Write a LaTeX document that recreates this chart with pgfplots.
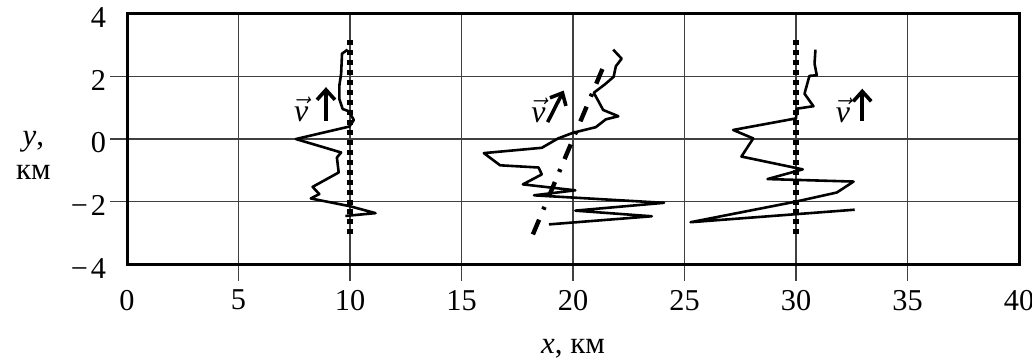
\documentclass[border=0pt]{standalone}
\usepackage{fontspec}
\setmainfont{Liberation Serif}
\usepackage{pgfplots}
\pgfplotsset{compat=1.18}
\usetikzlibrary{arrows.meta}
\begin{document}
\begin{tikzpicture}
\path[use as bounding box] (-63.75pt,-50pt) rectangle (454pt,132.5pt);
\begin{axis}[
 scale only axis, width=447.5pt, height=125.5pt,
 xmin=0, xmax=40, ymin=-4, ymax=4,
 axis lines*=left,
 axis line style={line width=1.5pt},
 xtick={5,10,...,35}, ytick={-2,0,2},
 xticklabels={}, yticklabels={},
 tick align=outside, major tick length=8.5pt,
 tick style={black!75, line width=0.7pt},
]
\end{axis}
\begin{axis}[
 scale only axis, width=447.5pt, height=125.5pt,
 xmin=0, xmax=40, ymin=-4, ymax=4,
 axis line style={line width=1.5pt},
 xtick={0,5,...,40}, ytick={-4,-2,...,4},
 xticklabels={0,5,10,15,20,25,30,35,40},
 yticklabels={−\kern1.5pt4,−\kern1.5pt2,0,2,4},
 major tick length=0pt,
 tick style={black!75, line width=0.7pt},
 grid=major, major grid style={black!75, line width=0.7pt},
 tick label style={font=\fontsize{15.2}{19}\selectfont},
 xticklabel style={yshift=-9.5pt},
 yticklabel style={xshift=-7pt, yshift=-2pt},
 every axis x label/.style={at={(axis description cs:0.5,0)}, anchor=base, yshift=-45pt, font=\fontsize{15.5}{19}\selectfont},
 xlabel={\textit{x}, км},
 every axis y label/.style={at={(axis description cs:0,0.5)}, anchor=center, xshift=-47pt, yshift=-8pt, align=center, font=\fontsize{15.5}{17}\selectfont},
 ylabel={\textit{y},\\км},
 clip=false,
]
% trace 1
\addplot[line width=1.3pt, line join=round] coordinates {
(9.89,2.86) (9.64,2.73) (9.6,2.09) (9.52,1.71) (9.52,1.28) (9.67,0.96) (9.94,0.89) (10.17,0.61) (9.97,0.40)
(7.57,0.0) (9.6,-0.43) (9.41,-0.59) (9.49,-1.07) (8.32,-1.53) (8.62,-1.76) (8.24,-1.90) (10.0,-2.15) (11.14,-2.37) (9.79,-2.46)};
% trace 2
\addplot[line width=1.3pt, line join=round] coordinates {
(21.8,2.86) (22.18,2.57) (21.92,2.33) (21.82,1.99) (21.43,1.75) (20.93,1.48) (21.13,1.22) (21.35,0.93) (22.03,0.73)
(21.47,0.63) (21.02,0.38) (20.0,0.2) (19.33,0.02) (18.6,-0.28) (16.0,-0.45) (16.73,-0.84) (18.45,-0.91) (18.6,-1.13)
(17.75,-1.45) (20.1,-1.64) (18.25,-1.8) (24.08,-2.04) (20.1,-2.29) (23.53,-2.47) (18.92,-2.73)};
% trace 3
\addplot[line width=1.3pt, line join=round] coordinates {
(30.87,2.86) (30.83,2.41) (30.93,2.04) (30.6,2.02) (30.38,1.45) (30.78,1.05) (30.03,0.97) (30.0,0.66)
(27.18,0.29) (28.08,0.02) (27.55,-0.56) (30.3,-0.97) (28.72,-1.28) (32.58,-1.36) (31.83,-1.71) (30.0,-2.0)
(25.27,-2.66) (32.63,-2.26)};
% dotted verticals
\addplot[line width=2.8pt, dash pattern=on 2.5pt off 2.5pt] coordinates {(10,-3.05) (10,3.2)};
\addplot[line width=2.8pt, dash pattern=on 2.5pt off 2.5pt] coordinates {(30,-3.05) (30,3.2)};
% dash-dot
\addplot[line width=2.2pt, dash pattern=on 8pt off 5.5pt on 1.5pt off 5.5pt] coordinates {(18.2,-3.05) (21.5,2.55)};
% arrows
\addplot[line width=1.8pt, -{Straight Barb[length=5pt,width=9pt]}] coordinates {(8.92,0.59) (8.92,1.66)};
\addplot[line width=1.8pt, -{Straight Barb[length=5pt,width=9pt]}] coordinates {(18.86,0.54) (19.58,1.55)};
\addplot[line width=1.8pt, -{Straight Barb[length=5pt,width=9pt]}] coordinates {(32.97,0.58) (32.97,1.61)};
\node[font=\fontsize{16}{19}\selectfont] at (axis cs:7.81,0.96) {$\vec{\mbox{\itshape v}}$};
\node[font=\fontsize{16}{19}\selectfont] at (axis cs:18.45,0.91) {$\vec{\mbox{\itshape v}}$};
\node[font=\fontsize{16}{19}\selectfont] at (axis cs:32.1,0.92) {$\vec{\mbox{\itshape v}}$};
\end{axis}
\end{tikzpicture}
\end{document}
